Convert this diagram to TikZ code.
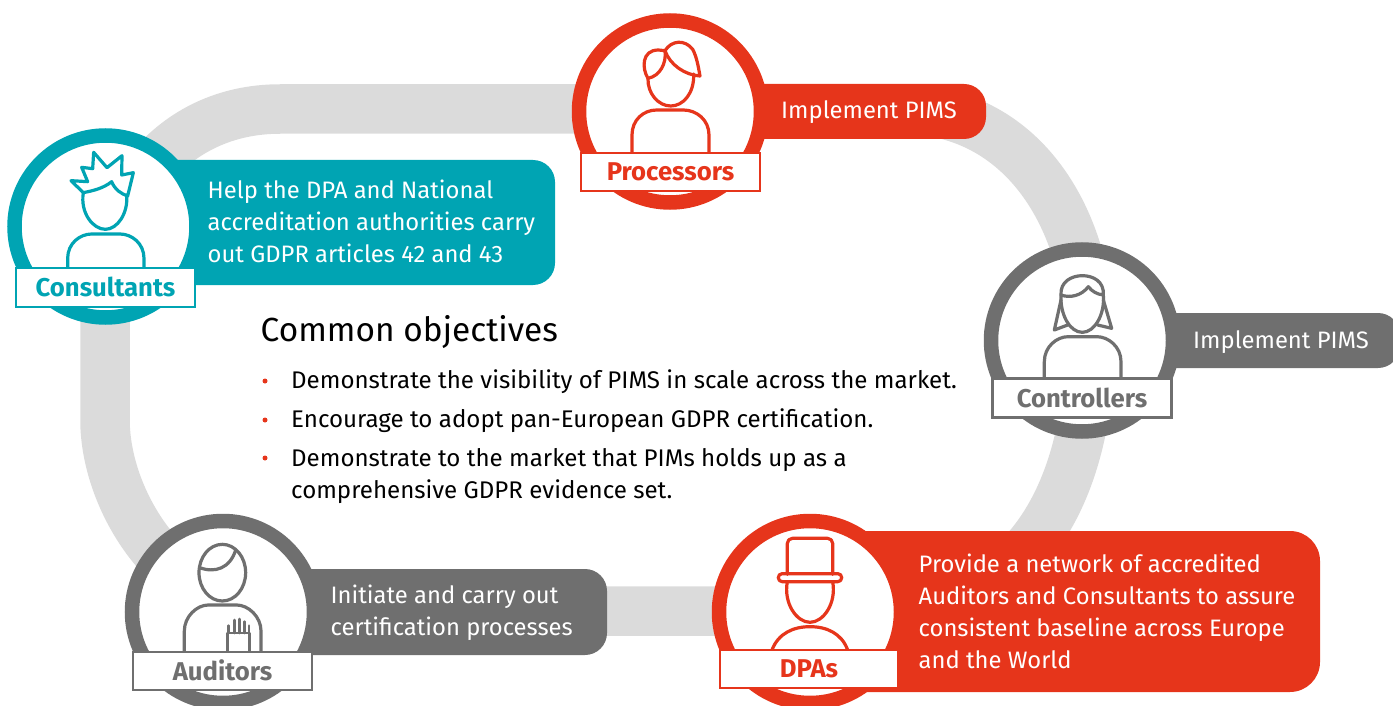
\documentclass[tikz,border=0pt]{standalone}
\usepackage{fontspec}
\setmainfont{Fira Sans}
\definecolor{cred}{HTML}{E6351B}
\definecolor{cteal}{HTML}{00A4B3}
\definecolor{cgray}{HTML}{6F6F6F}
\definecolor{ctrack}{HTML}{DBDBDB}
\tikzset{
  ring/.style={circle,draw=#1,line width=14.5pt,fill=white,minimum size=182pt,inner sep=0pt},
  tag/.style={rectangle,draw=#1,line width=2.5pt,fill=white,text=#1,inner sep=0pt,font=\fontsize{25.7}{30}\selectfont\bfseries},
  icon/.style={draw=#1,line width=3.2pt,line join=round,line cap=round},
  say/.style={text=white,align=left,anchor=west,inner sep=0pt,font=\fontsize{23.8}{32}\selectfont},
  item/.style={text=black,align=left,anchor=base west,inner sep=0pt,font=\fontsize{24.1}{32}\selectfont},
  dot/.style={circle,fill=cred,inner sep=0pt,minimum size=5pt},
  zoomed/.style={x=.33333pt,y=-.33333pt}
}
\begin{document}
\begin{tikzpicture}[x=1pt,y=-1pt]
\useasboundingbox (0,0) rectangle (1393,706);
% track
\draw[ctrack,line width=49.5pt] (280,109) -- (900,109)
  .. controls (1030,109) and (1090,230) .. (1090,340)
  .. controls (1090,470) and (1040,611) .. (880,611) -- (280,611)
  .. controls (170,611) and (105,500) .. (105,420) -- (105,300)
  .. controls (105,200) and (170,109) .. (280,109) -- cycle;
% callouts
\fill[cteal,rounded corners=22pt] (150,160) -- (555,160) -- (555,285) -- (150,285) -- cycle;
\fill[cred,rounded corners=22pt] (700,84) -- (986,84) -- (986,139) -- (700,139) -- cycle;
\fill[cgray,rounded corners=22pt] (1120,313) -- (1400,313) -- (1400,368) -- (1120,368) -- cycle;
\fill[cgray,rounded corners=22pt] (260,569) -- (607,569) -- (607,655) -- (260,655) -- cycle;
\fill[cred,rounded corners=30pt] (800,531) -- (1320,531) -- (1320,692) -- (800,692) -- cycle;
% rings
\node[ring=cteal] (consring) at (105.5,226.5) {};
\node[ring=cred]  (procring) at (670,111.5) {};
\node[ring=cgray] (contring) at (1082,340.5) {};
\node[ring=cgray] (audring) at (223,612) {};
\node[ring=cred]  (dparing) at (810,612) {};
% consultant icon
\begin{scope}[shift={(0,120)},zoomed]
\draw[icon=cteal] (203,445) -- (203,415) .. controls (203,370) and (240,342) .. (275,342) -- (360,342) .. controls (395,342) and (432,370) .. (432,415) -- (432,445);
\draw[icon=cteal] (213,182) -- (263,185) -- (245,142) -- (278,146) -- (281,97) -- (321,143) -- (366,107) -- (365,165) -- (400,158) -- (383,228)
  .. controls (365,222) and (345,210) .. (335,185) .. controls (310,205) and (280,212) .. (250,218) -- cycle;
\draw[icon=cteal] (250,218) .. controls (240,280) and (280,328) .. (316,328) .. controls (352,328) and (385,280) .. (380,225);
\end{scope}
% processor icon
\begin{scope}[shift={(560,0)},zoomed]
\draw[icon=cred] (216,458) -- (216,405) .. controls (216,360) and (250,330) .. (290,330) -- (370,330) .. controls (410,330) and (447,360) .. (447,405) -- (447,458);
\draw[icon=cred] (264,235) .. controls (262,280) and (295,318) .. (332,318) .. controls (370,318) and (403,280) .. (401,222);
\draw[icon=cred] (264,235) .. controls (245,205) and (245,150) .. (295,150) -- (315,152) .. controls (320,190) and (300,228) .. (264,235) -- cycle;
\draw[icon=cred] (315,152) .. controls (335,120) and (375,118) .. (398,148) .. controls (410,170) and (415,200) .. (420,228) .. controls (375,225) and (330,195) .. (315,152) -- cycle;
\end{scope}
% controller icon
\begin{scope}[shift={(975,235)},zoomed]
\draw[icon=cgray] (208,430) -- (208,380) .. controls (208,335) and (245,305) .. (280,305) -- (365,305) .. controls (400,305) and (438,335) .. (438,380) -- (438,430);
\draw[icon=cgray] (258,180) .. controls (255,240) and (285,292) .. (322,292) .. controls (358,292) and (390,240) .. (385,180);
\draw[icon=cgray] (258,180) .. controls (255,140) and (290,122) .. (322,122) .. controls (355,122) and (388,140) .. (385,180) .. controls (365,178) and (350,168) .. (340,155) .. controls (320,182) and (285,190) .. (258,180) -- cycle;
\draw[icon=cgray] (258,195) -- (238,285) -- (278,270);
\draw[icon=cgray] (385,195) -- (410,280) -- (368,270);
\end{scope}
% auditor icon
\begin{scope}[shift={(115,505)},zoomed]
\draw[icon=cgray] (208,442) -- (208,378) .. controls (208,335) and (245,300) .. (280,300) -- (365,300) .. controls (400,300) and (438,335) .. (438,378) -- (438,442);
\draw[icon=cgray] (322,203) ellipse [x radius=70,y radius=85];
\draw[icon=cgray] (254,188) .. controls (300,205) and (345,190) .. (362,135);
\draw[icon=cgray,line width=2.8pt] (337,440) -- (337,384) -- (404,384) -- (404,440);
\draw[icon=cgray,line width=2.8pt] (341,384) -- (341,362);
\draw[icon=cgray,line width=2.8pt] (358,384) -- (358,345);
\draw[icon=cgray,line width=2.8pt] (373,384) -- (373,342);
\draw[icon=cgray,line width=2.8pt] (388,384) -- (388,350);
\draw[icon=cgray,line width=2.8pt] (402,384) -- (402,362);
\end{scope}
% dpa icon
\begin{scope}[shift={(700,505)},zoomed]
\draw[icon=cred] (216,435) .. controls (235,385) and (280,365) .. (330,365) .. controls (380,365) and (425,385) .. (443,435);
\draw[icon=cred] (262,230) .. controls (250,295) and (290,352) .. (330,352) .. controls (370,352) and (410,295) .. (398,230);
\draw[icon=cred,rounded corners=5pt] (262,208) -- (262,100) -- (398,100) -- (398,208);
\draw[icon=cred,rounded corners=3.8pt] (235,206) rectangle (425,230);
\end{scope}
% tags
\node[tag=cteal,minimum width=179pt,minimum height=39pt] (constag) at (105.5,287.5) {\raisebox{1pt}{Consultants}};
\node[tag=cred,minimum width=179pt,minimum height=38pt] (proctag) at (670.5,172) {Processors};
\node[tag=cgray,minimum width=179pt,minimum height=39pt] (conttag) at (1082,398) {\raisebox{1pt}{Controllers}};
\node[tag=cgray,minimum width=179pt,minimum height=38pt] (audtag) at (222.5,671) {\raisebox{1pt}{Auditors}};
\node[tag=cred,minimum width=178pt,minimum height=38pt] (dpatag) at (809,669) {DPAs};
% callout text
\node[say] (constext) at (207.5,221) {Help the DPA and National\\accreditation authorities carry\\out GDPR articles 42 and 43};
\node[say] (proctext) at (781,112) {Implement PIMS};
\node[say] (conttext) at (1193,342.5) {Implement PIMS};
\node[say] (audtext) at (330.5,612.5) {Initiate and carry out\\certification processes};
\node[say] (dpatext) at (918.5,611) {Provide a network of accredited\\Auditors and Consultants to assure\\consistent baseline across Europe\\and the World};
% objectives
\node[text=black,anchor=base west,inner sep=0pt,font=\fontsize{33.4}{38}\selectfont] (head) at (260.5,341) {Common objectives};
\node[dot] (b1) at (265,381) {};
\node[dot] (b2) at (265,420) {};
\node[dot] (b3) at (265,458) {};
\node[item] (i1) at (291,388) {Demonstrate the visibility of PIMS in scale across the market.};
\node[item] (i2) at (291,427) {Encourage to adopt pan-European GDPR certification.};
\node[item] (i3) at (291,466) {Demonstrate to the market that PIMs holds up as a};
\node[item] (i4) at (291,498) {comprehensive GDPR evidence set.};
\end{tikzpicture}
\end{document}
